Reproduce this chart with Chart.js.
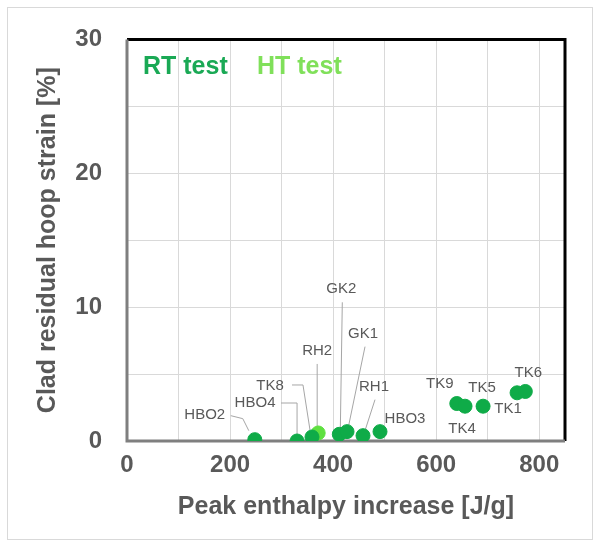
<!DOCTYPE html>
<html>
<head>
<meta charset="utf-8">
<script src="https://cdn.jsdelivr.net/npm/chart.js@4/dist/chart.umd.min.js"></script>
<style>
  html, body { margin: 0; padding: 0; background: #fff; }
  #wrap { width: 600px; height: 546px; }
</style>
</head>
<body>
<div id="wrap"><canvas id="strainChart" width="600" height="546"></canvas></div>
<script>
// Clad residual hoop strain vs peak enthalpy increase
const sampleNames  = ['HBO2', 'HBO4', 'TK8', 'RH2', 'GK2', 'GK1', 'RH1', 'HBO3', 'TK9', 'TK4', 'TK1', 'TK5', 'TK6'];
const peakEnthalpy = [248, 330, 359, 371, 412, 427, 458, 491, 640, 656, 691, 757, 773];
const hoopStrain   = [0.1, 0.0, 0.3, 0.6, 0.5, 0.7, 0.4, 0.7, 2.8, 2.6, 2.6, 3.6, 3.7];
const testType     = ['RT', 'RT', 'RT', 'HT', 'RT', 'RT', 'RT', 'RT', 'RT', 'RT', 'RT', 'RT', 'RT'];
const seriesNames  = ['RT test', 'HT test'];
const seriesKeys   = ['RT', 'HT'];
const xTickLabels  = [0, 200, 400, 600, 800];
const xGridLines   = [0, 100, 200, 300, 400, 500, 600, 700, 800];
const yTickLabels  = [0, 10, 20, 30];

const seriesColors = ['#0fab48', '#5fe040'];
const legendColors = ['#1aa955', '#80e05a'];
const textGray = '#595959';
const fontFamily = '"Liberation Sans", Arial, sans-serif';

// label placement, pixel offsets from the marker
const labelLayout = {
    HBO2: { dx: -50, dy: -25, leader: [[-24, -24], [-12, -21], [-6, -9]] },
    HBO4: { dx: -42, dy: -38, leader: [[-16, -38], [0, -38], [0, -6]] },
    TK8:  { dx: -42, dy: -51, leader: [[-20, -52], [-9, -52], [-2, -7]] },
    RH2:  { dx: -1,  dy: -82, leader: [[-1, -69], [-1, -4]] },
    GK2:  { dx: 2,   dy: -145, leader: [[3, -132], [1, -3]] },
    GK1:  { dx: 16,  dy: -98, leader: [[18, -85], [1, -3]] },
    RH1:  { dx: 11,  dy: -49, leader: [[12, -36], [2, -5]] },
    HBO3: { dx: 25,  dy: -13 },
    TK9:  { dx: -17, dy: -20 },
    TK4:  { dx: -3,  dy: 23 },
    TK1:  { dx: 25,  dy: 3 },
    TK5:  { dx: -35, dy: -5 },
    TK6:  { dx: 3,   dy: -19 }
};

const datasets = seriesKeys.map(function(key, s) {
    const pts = [];
    sampleNames.forEach(function(name, i) {
        if (testType[i] === key) {
            pts.push({ x: peakEnthalpy[i], y: hoopStrain[i], name: name });
        }
    });
    return {
        label: seriesNames[s],
        data: pts,
        backgroundColor: seriesColors[s],
        borderColor: seriesColors[s],
        borderWidth: 1,
        pointRadius: 7,
        pointHoverRadius: 7
    };
});

const framePlugin = {
    id: 'frame',
    beforeDraw(chart) {
        const ctx = chart.ctx;
        ctx.save();
        ctx.fillStyle = '#ffffff';
        ctx.fillRect(0, 0, chart.width, chart.height);
        ctx.strokeStyle = '#d9d9d9';
        ctx.lineWidth = 1;
        ctx.strokeRect(7.5, 7.5, 585, 532);
        ctx.restore();
    },
    beforeDatasetsDraw(chart) {
        const ctx = chart.ctx;
        const a = chart.chartArea;
        ctx.save();
        ctx.lineWidth = 3;
        ctx.strokeStyle = '#000000';
        ctx.beginPath();
        ctx.moveTo(a.left, a.top);
        ctx.lineTo(a.right, a.top);
        ctx.lineTo(a.right, a.bottom);
        ctx.stroke();
        ctx.strokeStyle = '#7f7f7f';
        ctx.beginPath();
        ctx.moveTo(a.left, a.top);
        ctx.lineTo(a.left, a.bottom);
        ctx.lineTo(a.right, a.bottom);
        ctx.stroke();

        // sample labels with leader lines
        ctx.font = '15px ' + fontFamily;
        ctx.fillStyle = textGray;
        ctx.textAlign = 'center';
        ctx.textBaseline = 'middle';
        chart.data.datasets.forEach(function(ds, d) {
            const meta = chart.getDatasetMeta(d);
            meta.data.forEach(function(el, i) {
                const name = ds.data[i].name;
                const lay = labelLayout[name];
                if (!lay) return;
                ctx.fillText(name, el.x + lay.dx, el.y + lay.dy);
                if (lay.leader) {
                    ctx.strokeStyle = '#a6a6a6';
                    ctx.lineWidth = 1;
                    ctx.beginPath();
                    lay.leader.forEach(function(p, k) {
                        if (k === 0) ctx.moveTo(el.x + p[0], el.y + p[1]);
                        else ctx.lineTo(el.x + p[0], el.y + p[1]);
                    });
                    ctx.stroke();
                }
            });
        });

        // series legend inside the plot
        ctx.font = 'bold 25px ' + fontFamily;
        ctx.textAlign = 'left';
        ctx.textBaseline = 'alphabetic';
        const legendX = [a.left + 16, a.left + 130];
        seriesNames.forEach(function(n, s) {
            ctx.fillStyle = legendColors[s];
            ctx.fillText(n, legendX[s], a.top + 35);
        });
        ctx.restore();
    }
};

new Chart(document.getElementById('strainChart').getContext('2d'), {
    type: 'scatter',
    data: { datasets: datasets },
    options: {
        responsive: false,
        animation: false,
        devicePixelRatio: 1,
        layout: { padding: { left: 29, right: 35, top: 33, bottom: 20 } },
        plugins: {
            legend: { display: false },
            tooltip: { enabled: false }
        },
        scales: {
            x: {
                type: 'linear',
                min: 0,
                max: 850,
                afterFit(scale) { scale.height = 85; },
                afterBuildTicks(scale) {
                    scale.ticks = xGridLines.map(function(v) { return { value: v }; });
                },
                grid: { color: '#d9d9d9', lineWidth: 1, drawTicks: false },
                border: { display: false },
                ticks: {
                    autoSkip: false,
                    maxRotation: 0,
                    padding: 10,
                    color: textGray,
                    font: { family: fontFamily, size: 24, weight: 'bold' },
                    callback: function(v) { return xTickLabels.indexOf(v) >= 0 ? String(v) : ''; }
                },
                title: {
                    display: true,
                    text: 'Peak enthalpy increase [J/g]',
                    color: textGray,
                    font: { family: fontFamily, size: 25, weight: 'bold' }
                }
            },
            y: {
                type: 'linear',
                min: 0,
                max: 30,
                afterFit(scale) { scale.width = 98; },
                grid: { color: '#d9d9d9', lineWidth: 1, drawTicks: false },
                border: { display: false },
                ticks: {
                    stepSize: 5,
                    autoSkip: false,
                    padding: 25,
                    color: textGray,
                    font: { family: fontFamily, size: 24, weight: 'bold' },
                    callback: function(v) { return yTickLabels.indexOf(v) >= 0 ? String(v) : ''; }
                },
                title: {
                    display: true,
                    text: 'Clad residual hoop strain [%]',
                    color: textGray,
                    font: { family: fontFamily, size: 25, weight: 'bold' }
                }
            }
        }
    },
    plugins: [framePlugin]
});
</script>
</body>
</html>
